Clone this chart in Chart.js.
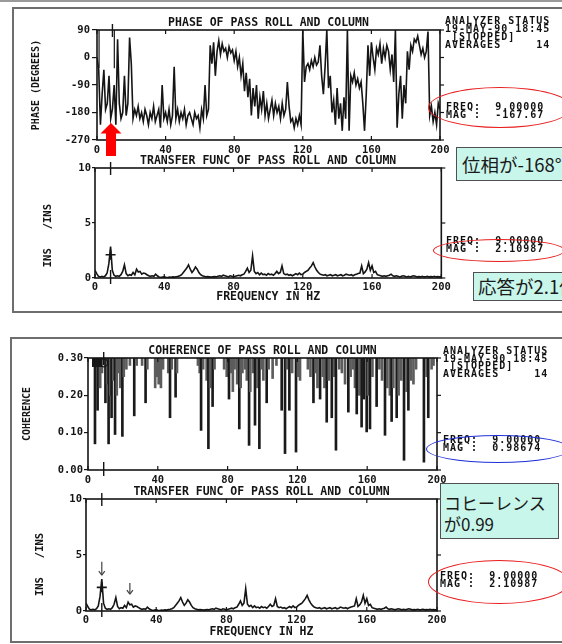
<!DOCTYPE html>
<html lang="ja"><head><meta charset="utf-8">
<title>Pass roll and column analyzer plots</title>
<script src="https://cdn.jsdelivr.net/npm/chart.js@4.4.1/dist/chart.umd.min.js"></script>
<style>
 html,body{margin:0;padding:0;background:#fff;}
 body{width:562px;height:644px;position:relative;overflow:hidden;}
 .topline{position:absolute;left:0;top:0;width:562px;height:2px;background:#9a9a9a;}
 .frame{position:absolute;border:2px solid #6e6e6e;box-sizing:border-box;}
 canvas{position:absolute;}
 .mono{position:absolute;font-family:"DejaVu Sans Mono",monospace;font-weight:bold;font-size:10px;letter-spacing:1px;line-height:8px;color:#111;white-space:pre;}
 .ell{position:absolute;border-radius:50%;box-sizing:border-box;}
 .note{position:absolute;box-sizing:border-box;background:#c8f6ea;border:1px solid #505050;font-family:"Noto Sans CJK JP",sans-serif;color:#1a1a1a;white-space:pre;}
 svg.arrow{position:absolute;left:0;top:0;}
</style></head>
<body>
<div class="topline"></div>
<div class="frame" style="left:12px;top:7px;width:570px;height:306px"></div>
<div class="frame" style="left:10px;top:337px;width:572px;height:306px"></div>
<canvas id="c1" width="440" height="152" style="left:14px;top:8px"></canvas>
<canvas id="c2" width="440" height="155" style="left:14px;top:150px"></canvas>
<canvas id="c3" width="440" height="150" style="left:12px;top:337px"></canvas>
<canvas id="c4" width="440" height="160" style="left:12px;top:480px"></canvas>

<div class="mono" style="left:445px;top:17px">ANALYZER STATUS
19-MAY-90 18:45
 [STOPPED]
AVERAGES     14</div>
<div class="mono" style="left:446px;top:103px">FREQ:  9.00000
MAG :  -167.67</div>
<div class="mono" style="left:446px;top:237px">FREQ:  9.00000
MAG :  2.10987</div>
<div class="mono" style="left:443px;top:347px;line-height:7.7px">ANALYZER STATUS
19-MAY-90 18:45
 [STOPPED]
AVERAGES     14</div>
<div class="mono" style="left:443px;top:436px;line-height:7.5px">FREQ:  9.00000
MAG :  0.98674</div>
<div class="mono" style="left:440px;top:572px;line-height:7.5px">FREQ:  9.00000
MAG :  2.10987</div>

<div class="ell" style="left:428px;top:87px;width:144px;height:41px;border:1.2px solid #e81c1c"></div>
<div class="ell" style="left:433px;top:239px;width:132px;height:23px;border:1.2px solid #e81c1c"></div>
<div class="ell" style="left:426px;top:435px;width:144px;height:28px;border:1.5px solid #1f2fd8"></div>
<div class="ell" style="left:428px;top:560px;width:142px;height:44px;border:1.2px solid #e81c1c"></div>

<div class="note" style="left:456px;top:147px;width:120px;height:34px;font-size:18.5px;line-height:32px;padding-left:5px">位相が-168°</div>
<div class="note" style="left:473px;top:272px;width:110px;height:29px;font-size:18.5px;line-height:27px;padding-left:4px">応答が2.1倍</div>
<div class="note" style="left:440px;top:483px;width:119px;height:56px;font-size:17px;line-height:21px;padding:8px 0 0 3px">コヒーレンス
が0.99</div>

<svg class="arrow" width="562" height="644"><polygon points="111,123 100.5,133.5 106,133.5 106,156 116,156 116,133.5 121.5,133.5" fill="#ff0000"/></svg>

<script>
// ---------- data ----------
const freqHz = Array.from({length: 201}, (_, i) => i);   // 1 Hz bins, 0..200 Hz
const freqTicks = [0, 40, 80, 120, 160, 200];
const phaseTicks = [-270, -180, -90, 0, 90];
const magTicks = [0, 5, 10];
const cohTicks = [0, 0.1, 0.2, 0.3];
const cursorFreq = 9;
const cursorMag = 2.10987;

const phaseDeg = [
 0,-40,-220,-120,-40,-170,-150,-60,-200,-168,
 -90,-220,60,-150,-200,-180,-60,-190,-150,65,
 -20,-200,-170,-190,-160,-200,-180,-210,-170,-190,
 -220,-180,-200,-160,-210,-190,-170,-230,-90,-200,
 -180,-210,-170,-220,-190,-30,-200,-170,-210,-180,
 -200,-170,-220,-190,-180,-200,-220,-180,-200,-190,
 -230,-170,-200,-90,-190,-170,40,-20,50,-60,
 20,55,10,45,20,30,0,35,15,25,
 -10,20,-30,0,-60,-20,-110,-50,-130,-70,
 -190,-100,-160,-90,-200,-130,-170,-110,-190,-150,
 -200,-170,-140,-190,-150,-180,-160,-200,-150,-190,
 -170,-80,-160,-210,-200,-230,-200,-220,-190,-220,
 90,-80,-30,-20,-40,-10,-30,0,-25,-15,
 40,-60,-120,-30,90,-100,-60,-180,-140,-220,
 -100,-200,-150,-240,-130,-200,90,-240,-60,-80,
 -50,-90,-70,-100,-80,-150,-240,-120,40,-60,
 50,0,-40,30,10,45,-20,30,0,40,
 20,-40,10,-80,90,-230,-120,-60,-200,-90,
 -150,20,-40,40,20,60,50,70,40,10,
 30,0,20,85,-190,-160,-210,-180,-220,-150,
 -170];

const tfMag = [
 0.7,0.4,0.15,0.1,0.15,0.1,0.2,0.45,1.3,2.85,
 0.7,0.25,0.15,0.2,0.15,0.3,0.6,1.2,0.4,0.2,
 0.3,0.25,0.5,0.3,0.8,0.55,0.6,0.35,0.45,0.4,
 0.3,0.2,0.15,0.2,0.15,0.35,0.2,0.1,0.05,0.08,
 0.1,0.06,0.05,0.08,0.06,0.1,0.08,0.12,0.15,0.2,
 0.3,0.5,0.7,0.9,1.2,0.8,0.5,0.7,1.0,0.8,
 0.5,0.3,0.2,0.15,0.1,0.12,0.1,0.08,0.1,0.12,
 0.1,0.15,0.2,0.15,0.25,0.2,0.15,0.1,0.2,0.15,
 0.1,0.15,0.2,0.25,0.2,0.3,0.35,0.6,0.9,0.5,
 0.7,2.0,0.6,0.4,0.5,0.3,0.45,0.3,0.35,0.25,
 0.4,0.3,0.35,0.25,0.4,0.6,0.4,0.5,1.1,0.4,
 0.3,0.35,0.25,0.3,0.2,0.3,0.4,0.3,0.45,0.3,
 0.35,0.5,0.6,0.7,0.9,1.1,1.4,1.0,0.7,0.5,
 0.35,0.3,0.25,0.3,0.2,0.25,0.3,0.2,0.25,0.3,
 0.2,0.25,0.3,0.2,0.25,0.35,0.3,0.25,0.3,0.2,
 0.3,0.35,0.4,0.45,1.1,0.4,0.55,0.8,1.4,0.7,
 1.1,0.5,0.6,0.3,0.25,0.2,0.15,0.2,0.15,0.2,
 0.25,0.35,0.2,0.15,0.2,0.15,0.1,0.15,0.2,0.15,
 0.1,0.15,0.1,0.15,0.2,0.15,0.1,0.12,0.1,0.15,
 0.1,0.12,0.15,0.1,0.12,0.1,0.15,0.1,0.12,0.1,
 0.1];

// coherence: frequency of each dip and the value it drops to (trace sits at the 0.30 top elsewhere)
const cohFreq = [4.0,5.5,7,8,10,11,11.8,12.8,13.5,14.5,15.5,16.5,17.5,18.5,19.7,20.5,22,24,26.5,27.9,
 31,33,34,38.5,39.5,40.5,41.8,43,46,47,48,50.2,51,63,64,64.8,66,68,69,70,
 71.4,72.5,78,79.5,80.8,82,83,84,85.5,86.7,87.5,88.5,90,91,92.3,93,94.5,95.7,97,98.2,
 99.5,100.5,102.4,103.5,105.8,108,111,112.9,114,115.4,117,119.2,120.3,121.5,126,127.5,129.2,130.5,131.5,133,
 134.5,135.5,136.8,138,139.7,141,142.1,144,145.5,147.3,149.2,150.5,152,153,154,155.5,156.8,158,159.7,160.5,
 161.6,163,165.4,167,168.5,170.2,171.5,173,174,175,176.9,178,179.5,181.1,182.5,183.6,185,186.5,188,192.5,
 194,195,196.9,198];
const cohMin = [0.07,0.16,0.22,0.26,0.18,0.23,0.07,0.20,0.14,0.24,0.095,0.20,0.26,0.22,0.09,0.25,0.27,0.28,0.145,0.28,
 0.28,0.18,0.27,0.22,0.25,0.23,0.22,0.27,0.26,0.14,0.27,0.195,0.26,0.28,0.26,0.106,0.27,0.24,0.057,0.22,
 0.17,0.27,0.27,0.25,0.19,0.26,0.21,0.27,0.23,0.11,0.22,0.26,0.27,0.24,0.066,0.21,0.26,0.12,0.22,0.057,
 0.27,0.24,0.18,0.27,0.245,0.28,0.16,0.044,0.27,0.16,0.26,0.048,0.25,0.24,0.27,0.25,0.18,0.26,0.22,0.19,
 0.25,0.22,0.128,0.24,0.14,0.25,0.053,0.27,0.26,0.23,0.155,0.25,0.27,0.22,0.15,0.20,0.115,0.19,0.102,0.20,
 0.11,0.25,0.17,0.27,0.24,0.093,0.22,0.20,0.13,0.22,0.14,0.20,0.24,0.026,0.21,0.16,0.24,0.23,0.27,0.021,
 0.25,0.14,0.27,0.28];
const cohTop = 0.30;

// ---------- drawing ----------
const MONO = '"DejaVu Sans Mono", monospace';
const INK = '#151515';

const framePlugin = {
  id: 'frame',
  afterDatasetsDraw(chart, args, o) {
    const {ctx, chartArea: a, scales} = chart;
    const x = scales.x, y = scales.y;
    const L = (x1, y1, x2, y2) => { ctx.beginPath(); ctx.moveTo(x1, y1); ctx.lineTo(x2, y2); ctx.stroke(); };
    ctx.save();
    if (o.whiteBox) {
      const b = o.whiteBox;
      const x1 = x.getPixelForValue(b.f0), x2 = x.getPixelForValue(b.f1);
      const y1 = y.getPixelForValue(b.top), y2 = y.getPixelForValue(b.bottom);
      ctx.fillStyle = '#fff'; ctx.fillRect(x1, y1, x2 - x1, y2 - y1);
      ctx.strokeStyle = INK; ctx.lineWidth = 1.2;
      L(x1, y1, x1, y2); L(x2, y1, x2, y2);
    }
    if (o.cohCursor) {
      const x1 = x.getPixelForValue(2.3), x2 = x.getPixelForValue(8);
      const y1 = y.getPixelForValue(0.3), y2 = y.getPixelForValue(0.276);
      ctx.fillStyle = INK; ctx.fillRect(x1, y1, x2 - x1, y2 - y1);
      ctx.strokeStyle = INK; ctx.lineWidth = 1.2;
      ctx.beginPath(); ctx.arc(x.getPixelForValue(9), y.getPixelForValue(0.287), 4, 0, Math.PI * 2); ctx.stroke();
    }
    ctx.strokeStyle = INK; ctx.lineWidth = 1.6;
    ctx.strokeRect(a.left, a.top, a.right - a.left, a.bottom - a.top);
    ctx.lineWidth = 1.2;
    x.ticks.forEach(t => { const p = x.getPixelForValue(t.value); L(p, a.bottom, p, a.bottom - 4); L(p, a.top, p, a.top + 4); });
    y.ticks.forEach(t => { const p = y.getPixelForValue(t.value); L(a.right, p, a.right + 4, p); });
    if (o.cursor !== undefined) {
      const c = x.getPixelForValue(o.cursor);
      ctx.lineWidth = 1.4;
      L(c, a.top - 6, c, a.top + 7); L(c, a.bottom - 8, c, a.bottom + 6);
    }
    (o.arrows || []).forEach(ar => {
      const p = x.getPixelForValue(ar.f), y1 = y.getPixelForValue(ar.from), y2 = y.getPixelForValue(ar.to);
      ctx.strokeStyle = '#444'; ctx.lineWidth = 1.2;
      L(p, y1, p, y2); L(p - 3, y2 - 4, p, y2); L(p + 3, y2 - 4, p, y2);
    });
    ctx.restore();
  }
};
Chart.register(framePlugin);

function opts(c) {
  const tickFont = {family: MONO, size: 10.5, weight: 'bold'};
  return {
    responsive: false, animation: false, events: [],
    layout: {padding: {left: 0, right: c.padR, top: 0, bottom: 0}},
    plugins: {
      legend: {display: false}, tooltip: {enabled: false},
      title: {display: true, text: c.title, fullSize: false, color: INK,
        font: {family: MONO, size: 11.5, lineHeight: 1.2, weight: 'bold'},
        padding: {top: c.tT, bottom: c.tB}},
      frame: c.frame
    },
    scales: {
      x: {type: 'linear', min: 0, max: 200, offset: false,
        afterBuildTicks: s => { s.ticks = freqTicks.map(v => ({value: v})); },
        afterFit: s => { s.height = c.xH; },
        grid: {display: false, drawTicks: false}, border: {display: false},
        ticks: {font: tickFont, color: INK, padding: c.xP, maxRotation: 0, autoSkip: false},
        title: c.xTitle ? {display: true, text: c.xTitle, color: INK,
          font: {family: MONO, size: 11.5, lineHeight: 1.2, weight: 'bold'},
          padding: {top: 0, bottom: c.xTB}} : {display: false}
      },
      y: {type: 'linear', min: c.yMin, max: c.yMax,
        afterBuildTicks: s => { s.ticks = c.yTicks.map(v => ({value: v})); },
        afterFit: s => { s.width = c.yW; },
        grid: {display: true, drawOnChartArea: false, drawTicks: true, tickLength: c.tl, color: INK, lineWidth: 1.2},
        border: {display: false},
        ticks: {font: tickFont, color: INK, padding: c.yP, callback: c.fmt || (v => String(v))},
        title: {display: true, text: c.yTitle, color: INK,
          font: {family: MONO, size: c.ytS, lineHeight: 1.2, weight: 'bold'},
          padding: {top: c.ytP, bottom: 0}}
      }
    }
  };
}

const lineDs = (vals) => ({data: vals, borderColor: INK, borderWidth: 1.6, pointRadius: 0, tension: 0});
const cursorDs = () => ({data: [{x: cursorFreq, y: cursorMag}], showLine: false, pointStyle: 'cross',
  pointRadius: 5, borderColor: INK, borderWidth: 1.6});

new Chart(document.getElementById('c1'), {
  type: 'line',
  data: {labels: freqHz, datasets: [lineDs(phaseDeg)]},
  options: opts({title: 'PHASE OF PASS ROLL AND COLUMN', padR: 14, tT: 8, tB: 0.2, xH: 20, xP: 4,
    yMin: -270, yMax: 90, yTicks: phaseTicks, yW: 83, tl: 5, yP: 2,
    yTitle: 'PHASE (DEGREES)', ytS: 10, ytP: 16,
    frame: {cursor: cursorFreq, whiteBox: {f0: 1.2, f1: 10.1, top: 90, bottom: -35}}})
});

new Chart(document.getElementById('c2'), {
  type: 'line',
  data: {labels: freqHz, datasets: [lineDs(tfMag), cursorDs()]},
  options: opts({title: 'TRANSFER FUNC OF PASS ROLL AND COLUMN', padR: 12, tT: 4, tB: 0.2, xH: 27, xP: 3.2,
    xTitle: 'FREQUENCY IN HZ', xTB: 1.1,
    yMin: 0, yMax: 10, yTicks: magTicks, yW: 81, tl: 3, yP: 1,
    yTitle: 'INS   /INS    ', ytS: 10.5, ytP: 27.7,
    frame: {cursor: cursorFreq}})
});

new Chart(document.getElementById('c3'), {
  type: 'bar',
  data: {datasets: [{
    data: cohFreq.map((f, i) => ({x: f, y: [cohMin[i], cohTop]})),
    backgroundColor: ctx => (ctx.raw && ctx.raw.y[0] < 0.2) ? '#1a1a1a' : '#5c5c5c',
    barThickness: 2, grouped: false, borderWidth: 0}]},
  options: opts({title: 'COHERENCE OF PASS ROLL AND COLUMN', padR: 15, tT: 7.1, tB: 0.1, xH: 17, xP: 3.7,
    yMin: 0, yMax: 0.3, yTicks: cohTicks, fmt: v => v.toFixed(2), yW: 76, tl: 4, yP: 1,
    yTitle: 'COHERENCE', ytS: 10, ytP: 9,
    frame: {cursor: cursorFreq, cohCursor: true}})
});

new Chart(document.getElementById('c4'), {
  type: 'line',
  data: {labels: freqHz, datasets: [lineDs(tfMag), cursorDs()]},
  options: opts({title: 'TRANSFER FUNC OF PASS ROLL AND COLUMN', padR: 15, tT: 5.2, tB: 0, xH: 29, xP: 2.7,
    xTitle: 'FREQUENCY IN HZ', xTB: 1.1,
    yMin: 0, yMax: 10, yTicks: magTicks, yW: 74, tl: 3, yP: 1,
    yTitle: 'INS   /INS   ', ytS: 10.5, ytP: 21.7,
    frame: {cursor: cursorFreq, arrows: [{f: 9, from: 4.4, to: 3.2}, {f: 25, from: 2.5, to: 1.5}]}})
});
</script>
</body></html>
